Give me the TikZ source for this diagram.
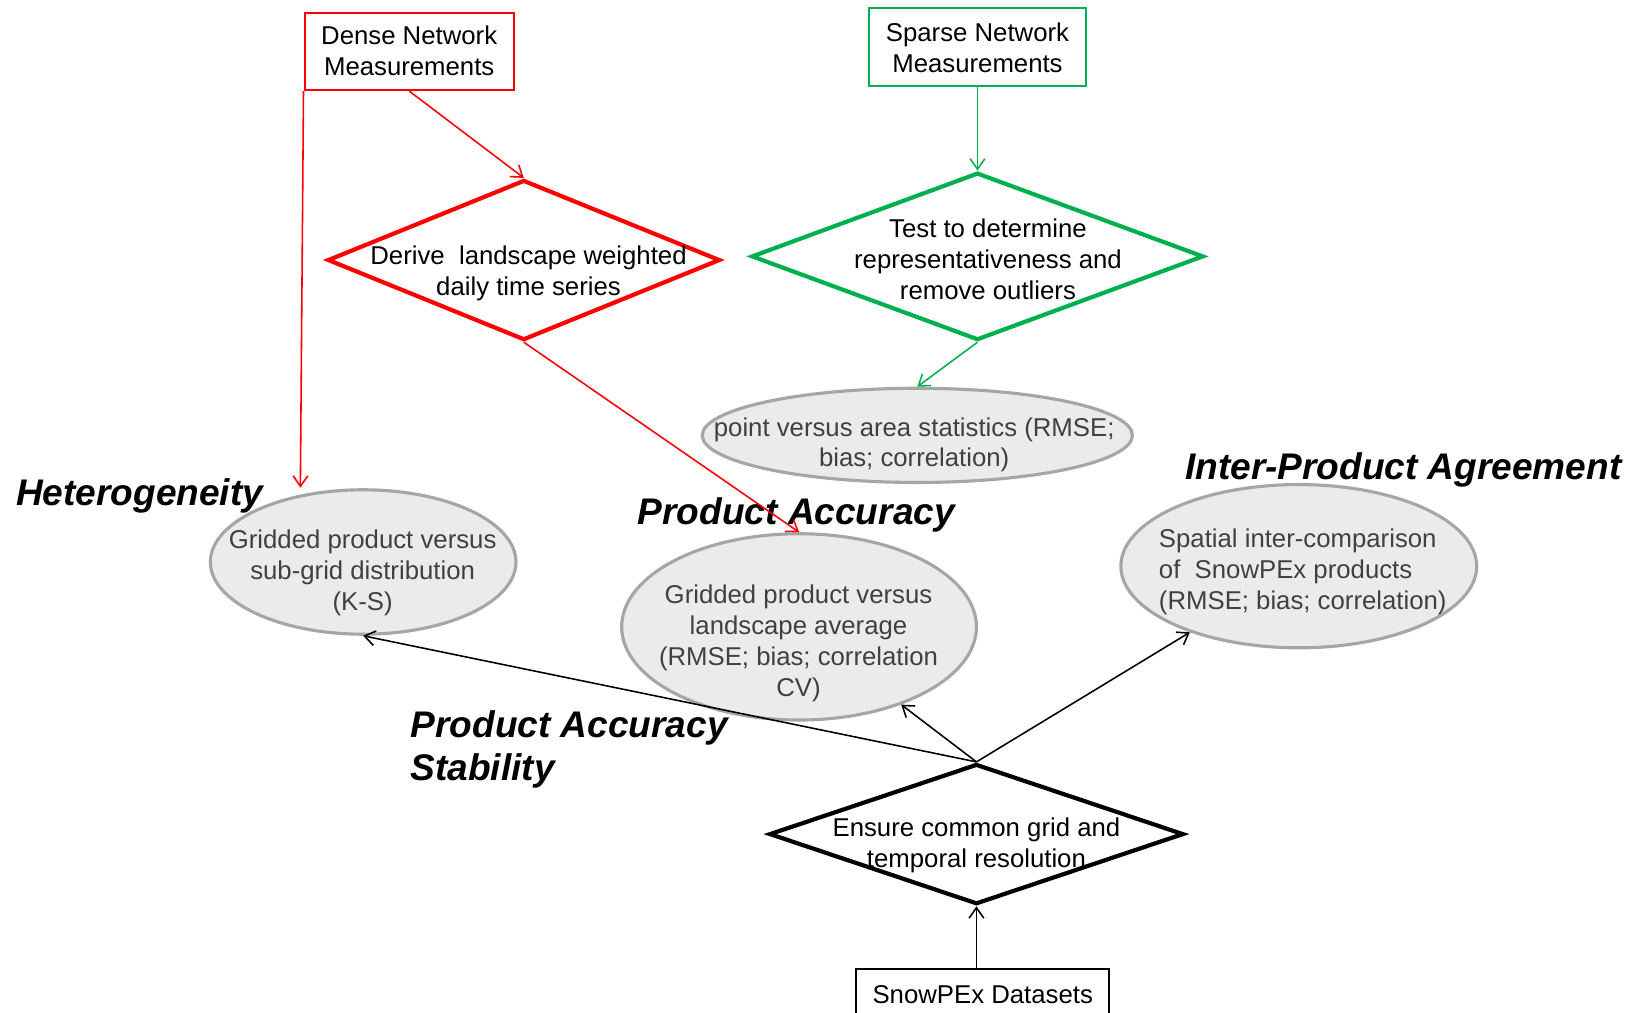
\documentclass[tikz,border=0pt]{standalone}
\usepackage{fontspec}
\setmainfont{Liberation Sans}
\usetikzlibrary{shapes.geometric,arrows.meta}
\definecolor{pgreen}{HTML}{00B050}
\definecolor{pred}{HTML}{FF0000}
\definecolor{efill}{HTML}{EBEBEB}
\definecolor{eline}{HTML}{A6A6A6}
\definecolor{etext}{HTML}{404040}
\tikzset{
  txt/.style={inner sep=0pt, align=center, font=\fontsize{12.3}{14.75}\selectfont},
  etxt/.style={txt, text=etext},
  head/.style={inner sep=0pt, anchor=west, align=left, font=\fontsize{17.7}{20.5}\selectfont\bfseries\itshape},
  srcbox/.style={rectangle, draw, line width=1pt, fill=white, inner sep=0pt},
  dmd/.style={diamond, draw, line width=2pt, fill=white, inner sep=0pt},
  ell/.style={ellipse, draw=eline, fill=efill, line width=1.5pt, inner sep=0pt},
  conn/.style={line width=0.75pt, -{Straight Barb[length=5pt,width=7pt,line width=0.75pt]}},
}
\begin{document}
\begin{tikzpicture}[x=0.5pt,y=-0.5pt]
\useasboundingbox (0,0) rectangle (1568,967);
% boxes
\node[srcbox, draw=pred, minimum width=100pt, minimum height=37pt] (dense) at (391,49) {};
\node[txt] (densetxt) at (391,48.5) {Dense Network\\Measurements};
\node[srcbox, draw=pgreen, minimum width=104pt, minimum height=37pt] (sparse) at (934,45) {};
\node[txt] (sparsetxt) at (934,45.5) {Sparse Network\\Measurements};
\node[srcbox, draw=black, minimum width=121pt, minimum height=30pt] (snow) at (939,956) {};
\node[txt] (snowtxt) at (939,950) {SnowPEx Datasets};
% diamonds
\node[dmd, draw=pred, minimum width=187.5pt, minimum height=76.5pt] (rd) at (500.5,248.5) {};
\node[txt] (rdtxt) at (505,261.5) {Derive\ \ landscape weighted\\daily time series};
\node[dmd, draw=pgreen, minimum width=216pt, minimum height=80pt] (gd) at (934,245) {};
\node[txt] (gdtxt) at (944,247.5) {Test to determine\\representativeness and\\remove outliers};
\node[dmd, draw=black, minimum width=198pt, minimum height=67pt] (bd) at (933,797) {};
% ellipses
\node[ell, minimum width=205.5pt, minimum height=45pt] (pv) at (876.5,416) {};
\node[etxt] (pvtxt) at (873.5,425) {point versus area statistics (RMSE;\\bias; correlation)};
\node[ell, minimum width=146pt, minimum height=69pt] (het) at (347,537) {};
\node[etxt] (hettxt) at (346.5,547.5) {Gridded product versus\\sub-grid distribution\\(K-S)};
\node[ell, minimum width=169.5pt, minimum height=89pt] (pa) at (763.5,599) {};
\node[etxt] (patxt) at (763,615) {Gridded product versus\\landscape average\\(RMSE; bias; correlation\\CV)};
\node[ell, minimum width=170pt, minimum height=78pt] (ip) at (1241,541) {};
\node[etxt, align=left, anchor=west] (iptxt) at (1107,546.5) {Spatial inter-comparison\\of\ \ SnowPEx products\\(RMSE; bias; correlation)};
% headings
\node[head] (h1) at (15,474) {Heterogeneity};
\node[head] (h2) at (609,492) {Product Accuracy};
\node[head] (h3) at (1132,449) {Inter-Product Agreement};
\node[head] (h4) at (392,716) {Product Accuracy\\Stability};
% connectors
\coordinate (hetin) at (287,466);
\draw[conn, pred] (dense.south west) -- (hetin);
\draw[conn, pred] (dense.south) -- (rd.north);
\draw[conn, pred] (rd.south) -- (pa.north);
\draw[conn, pgreen] (sparse.south) -- (gd.north);
\draw[conn, pgreen] (gd.south) -- (pv.north);
\draw[conn] (bd.north) -- (het.south);
\draw[conn] (bd.north) -- (pa);
\draw[conn] (bd.north) -- (ip);
\draw[conn] (snow.north -| bd.south) -- (bd.south);
\node[txt] (bdtxt) at (933,808) {Ensure common grid and\\temporal resolution};
\end{tikzpicture}
\end{document}
